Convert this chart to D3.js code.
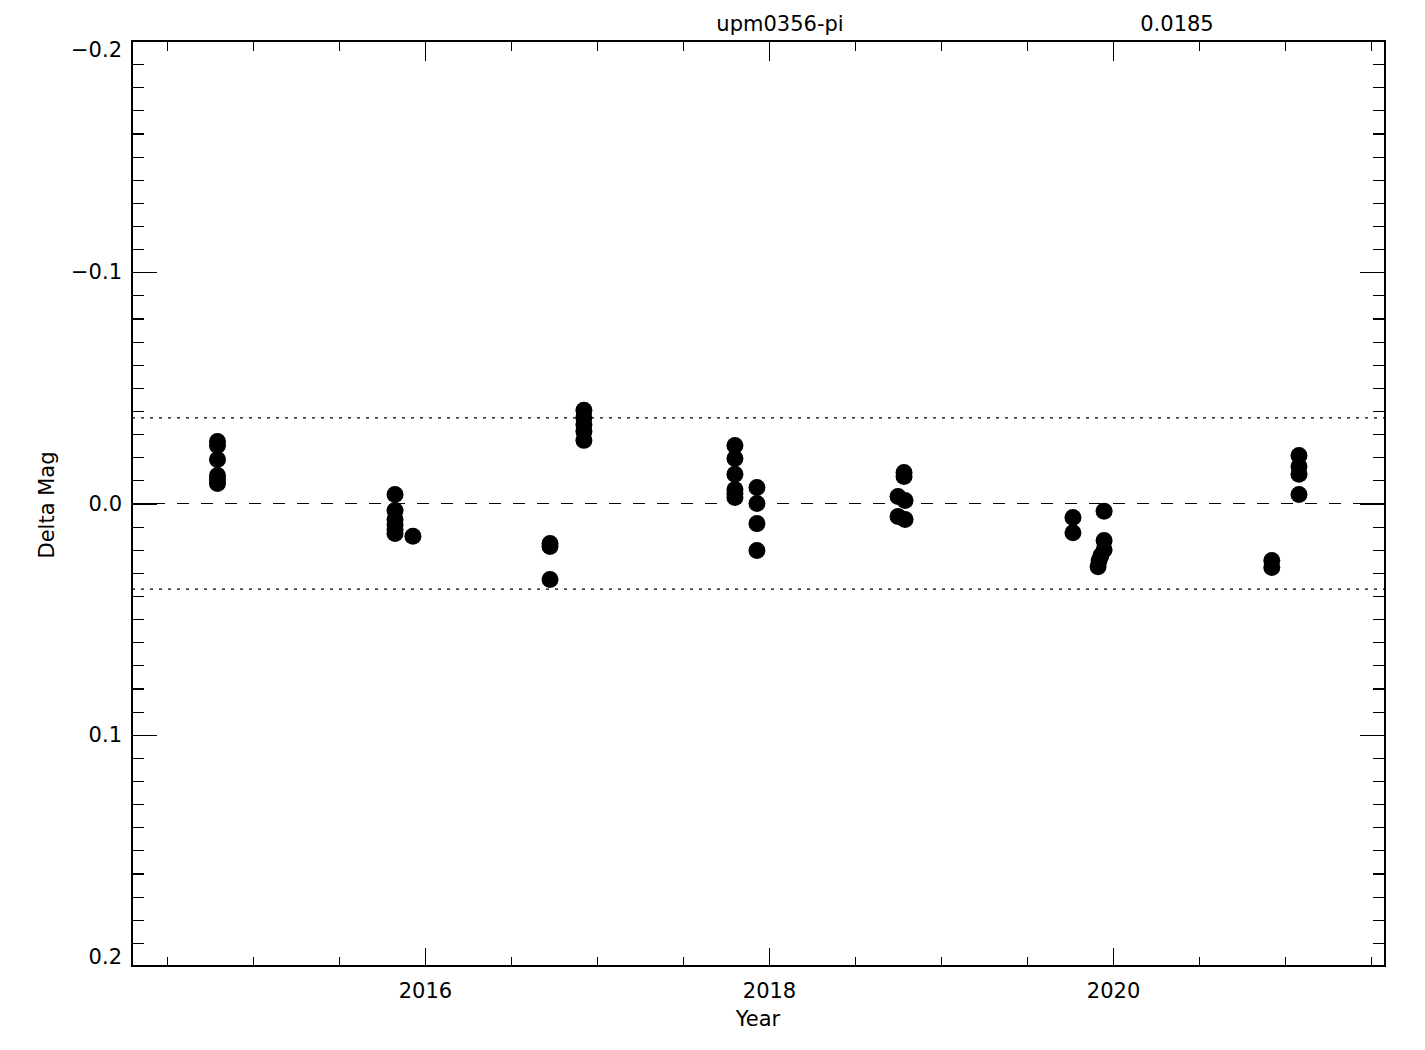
<!DOCTYPE html>
<meta charset="utf-8">
<style type="text/css">
body { margin: 0; background: #fff; }
svg text { font-family: "DejaVu Sans", sans-serif; font-size: 21px; fill: #000; }
.frame, .tick line { shape-rendering: crispEdges; }
</style>
<svg width="1425" height="1050"></svg>
<script src="https://d3js.org/d3.v7.min.js"></script>
<script>

// observation epochs (decimal year) and delta magnitude
var years = [
	2014.794, 2014.794, 2014.794, 2014.794, 2014.794, 2014.794,
	2015.826, 2015.826, 2015.826, 2015.826, 2015.826, 2015.826, 2015.930,
	2016.727, 2016.727, 2016.727,
	2016.924, 2016.924, 2016.924, 2016.924, 2016.924,
	2017.802, 2017.802, 2017.802, 2017.802, 2017.802, 2017.802,
	2017.930, 2017.930, 2017.930, 2017.930,
	2018.785, 2018.785, 2018.750, 2018.791, 2018.750, 2018.791,
	2019.767, 2019.767,
	2019.948, 2019.948, 2019.948, 2019.930, 2019.919, 2019.913,
	2020.923, 2020.923,
	2021.081, 2021.081, 2021.081, 2021.081
];
var deltaMag = [
	-0.0268, -0.0251, -0.0190, -0.0121, -0.0104, -0.0087,
	-0.0039, 0.0030, 0.0069, 0.0091, 0.0113, 0.0130, 0.0142,
	0.0173, 0.0186, 0.0329,
	-0.0403, -0.0372, -0.0342, -0.0312, -0.0273,
	-0.0251, -0.0195, -0.0126, -0.0061, -0.0043, -0.0026,
	-0.0069, 0.0000, 0.0087, 0.0203,
	-0.0134, -0.0117, -0.0030, -0.0013, 0.0056, 0.0069,
	0.0061, 0.0126,
	0.0033, 0.0160, 0.0200, 0.0225, 0.0247, 0.0273,
	0.0247, 0.0277,
	-0.0208, -0.0160, -0.0126, -0.0039
];

var starName = "upm0356-pi";
var sigma = 0.0185;

var xMajor = [2016, 2018, 2020];
var xMinor = [2014.5, 2015, 2015.5, 2016.5, 2017, 2017.5, 2018.5, 2019, 2019.5, 2020.5, 2021, 2021.5];
var yMajor = [-0.2, -0.1, 0.0, 0.1, 0.2];
var yMinor = d3.range(-20, 21).filter(function(i) { return i % 10 !== 0; }).map(function(i) { return i / 100; });

var svg = d3.select("svg");
var pLeft = 132, pRight = 1385, pTop = 41, pBottom = 966;

var x = d3.scaleLinear().domain([2014.297, 2021.581]).range([pLeft, pRight]);
var y = d3.scaleLinear().domain([-0.2, 0.2]).range([pTop, pBottom]);

function tidy(g) {
	g.select(".domain").remove();
	g.selectAll(".tick line").attr("stroke", "#000").attr("stroke-width", 1.2);
	g.selectAll(".tick text").attr("fill", "#000").attr("font-size", null).attr("font-family", null);
}

// x axes (bottom labelled, top mirrored)
svg.append("g").attr("transform", "translate(0," + pBottom + ")")
		.call(d3.axisBottom(x).tickValues(xMajor).tickSizeInner(-18).tickSizeOuter(0).tickPadding(17).tickFormat(d3.format("d")))
		.call(tidy);
svg.append("g").attr("transform", "translate(0," + pBottom + ")")
		.call(d3.axisBottom(x).tickValues(xMinor).tickSizeInner(-9).tickSizeOuter(0).tickFormat(""))
		.call(tidy);
svg.append("g").attr("transform", "translate(0," + pTop + ")")
		.call(d3.axisTop(x).tickValues(xMajor).tickSizeInner(-20).tickSizeOuter(0).tickFormat(""))
		.call(tidy);
svg.append("g").attr("transform", "translate(0," + pTop + ")")
		.call(d3.axisTop(x).tickValues(xMinor).tickSizeInner(-10).tickSizeOuter(0).tickFormat(""))
		.call(tidy);

// y axes
var yl = svg.append("g").attr("transform", "translate(" + pLeft + ",0)")
		.call(d3.axisLeft(y).tickValues(yMajor).tickSizeInner(-25).tickSizeOuter(0).tickPadding(10).tickFormat(d3.format(".1f")))
		.call(tidy);
// end labels sit inside the frame, like the original
yl.selectAll(".tick text")
		.attr("dy", function(d) { return d === -0.2 ? "0.75em" : (d === 0.2 ? "-0.1em" : "0.32em"); });
svg.append("g").attr("transform", "translate(" + pLeft + ",0)")
		.call(d3.axisLeft(y).tickValues(yMinor).tickSizeInner(-12).tickSizeOuter(0).tickFormat(""))
		.call(tidy);
svg.append("g").attr("transform", "translate(" + pRight + ",0)")
		.call(d3.axisRight(y).tickValues(yMajor).tickSizeInner(-25).tickSizeOuter(0).tickFormat(""))
		.call(tidy);
svg.append("g").attr("transform", "translate(" + pRight + ",0)")
		.call(d3.axisRight(y).tickValues(yMinor).tickSizeInner(-12).tickSizeOuter(0).tickFormat(""))
		.call(tidy);

svg.append("rect")
		.attr("class", "frame")
		.attr("x", pLeft).attr("y", pTop)
		.attr("width", pRight - pLeft).attr("height", pBottom - pTop)
		.attr("fill", "none").attr("stroke", "#000").attr("stroke-width", 1.4);

// zero line and +/- 2 sigma lines
svg.append("line")
		.attr("x1", pLeft).attr("x2", pRight)
		.attr("y1", y(0)).attr("y2", y(0))
		.attr("stroke", "#000").attr("stroke-width", 1.2)
		.attr("stroke-dasharray", "12,12").attr("stroke-dashoffset", 3);
svg.selectAll("line.sig")
		.data([-2 * sigma, 2 * sigma])
		.enter().append("line")
		.attr("class", "sig")
		.attr("x1", pLeft).attr("x2", pRight)
		.attr("y1", function(d) { return y(d); }).attr("y2", function(d) { return y(d); })
		.attr("stroke", "#000").attr("stroke-width", 1.2)
		.attr("stroke-dasharray", "3,6");

svg.append("g")
	.selectAll("circle")
	.data(years)
	.enter().append("circle")
		.attr("cx", function(d) { return x(d); })
		.attr("cy", function(d, i) { return y(deltaMag[i]); })
		.attr("r", 8.5)
		.attr("fill", "#000");

// labels
svg.append("text").attr("x", 780).attr("y", 31).attr("text-anchor", "middle").text(starName);
svg.append("text").attr("x", 1177).attr("y", 31).attr("text-anchor", "middle").text(d3.format(".4f")(sigma));
svg.append("text").attr("x", 758).attr("y", 1026).attr("text-anchor", "middle").text("Year");
svg.append("text")
		.attr("transform", "translate(54,505) rotate(-90)")
		.attr("text-anchor", "middle")
		.text("Delta Mag");

</script>
